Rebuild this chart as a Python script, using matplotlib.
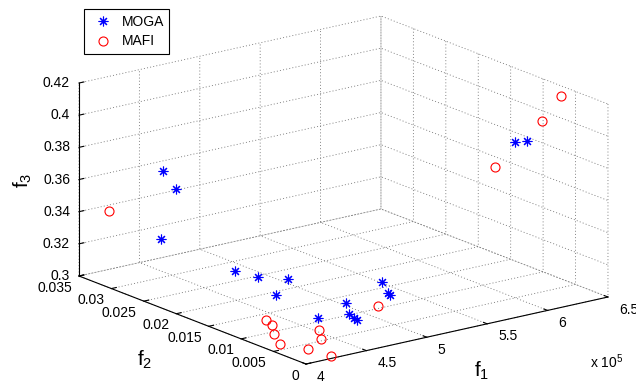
import matplotlib
matplotlib.use('Agg')
import matplotlib.pyplot as plt
from matplotlib.transforms import offset_copy
from matplotlib.ticker import NullFormatter

# ---------------- data ----------------
moga_f1 = [4.426e5, 4.428e5, 4.463e5, 6.000e5, 6.098e5, 4.629e5, 4.669e5, 4.800e5, 4.652e5,
           5.255e5, 5.263e5, 5.252e5, 4.908e5, 4.854e5, 4.827e5, 4.816e5, 4.638e5]
moga_f2 = [0.0300, 0.0280, 0.0310, 0.0050, 0.0050, 0.0226, 0.0198, 0.0176, 0.0167,
           0.0116, 0.0109, 0.0103, 0.0108, 0.0093, 0.0080, 0.0073, 0.0100]
moga_f3 = [0.366, 0.358, 0.3215, 0.3968, 0.3959, 0.312, 0.312, 0.312, 0.306,
           0.312, 0.306, 0.306, 0.306, 0.3024, 0.3024, 0.3024, 0.3024]

mafi_f1 = [6.437e5, 6.280e5, 5.888e5, 4.100e5, 5.1135e5, 4.332e5, 4.297e5, 4.187e5,
           4.0845e5, 4.477e5, 4.367e5, 4.1855e5, 4.2385e5]
mafi_f2 = [0.0060, 0.0060, 0.0060, 0.0322, 0.00966, 0.01242, 0.01081, 0.0084,
           0.00552, 0.0069, 0.0045, 0.00322, 0.00064]
mafi_f3 = [0.4167, 0.4038, 0.3817, 0.343, 0.3024, 0.3024, 0.3024, 0.3024,
           0.3024, 0.3024, 0.3024, 0.3012, 0.3000]

f1_ticks = [4e5, 4.5e5, 5e5, 5.5e5, 6e5, 6.5e5]
f1_labels = ['4', '4.5', '5', '5.5', '6', '6.5']
f2_ticks = [0, 0.005, 0.01, 0.015, 0.02, 0.025, 0.03, 0.035]
f2_labels = ['0', '0.005', '0.01', '0.015', '0.02', '0.025', '0.03', '0.035']
f3_ticks = [0.3, 0.32, 0.34, 0.36, 0.38, 0.4, 0.42]
f3_labels = ['0.3', '0.32', '0.34', '0.36', '0.38', '0.4', '0.42']

# ---------------- style ----------------
plt.rcParams['font.family'] = ['Liberation Sans', 'DejaVu Sans']
plt.rcParams['mathtext.default'] = 'regular'
plt.rcParams['axes.linewidth'] = 0.8
plt.rcParams['grid.color'] = '0.45'
plt.rcParams['grid.linewidth'] = 0.6
plt.rcParams['grid.linestyle'] = ':'

W, H = 636, 386
fig = plt.figure(figsize=(W / 100, H / 100), dpi=100)
S = 554.0
ax = fig.add_axes([59 / W, -88.5 / H, S / W, S / H], projection='3d')
ax.set_proj_type('ortho')
ax.view_init(elev=17.06, azim=-127.11)
ax.set_box_aspect((378.7, 376.3, 201.9))

ax.set_xlim(4e5, 6.5e5)
ax.set_ylim(0, 0.035)
ax.set_zlim(0.3, 0.42)
ax.set_xticks(f1_ticks)
ax.set_yticks(f2_ticks)
ax.set_zticks(f3_ticks)
for a in (ax.xaxis, ax.yaxis, ax.zaxis):
    a.set_major_formatter(NullFormatter())
    a.pane.set_fill(False)
    a.pane.set_edgecolor('none')
    a._axinfo['grid'].update({'color': '0.45', 'linewidth': 0.6,
                              'linestyle': (0, (1.2, 2.6))})
    a._axinfo['axisline']['color'] = 'black'
    a._axinfo['tick']['inward_factor'] = 0.0
    a._axinfo['tick']['outward_factor'] = 0.2
    a.line.set_linewidth(0.8)

# data
h1, = ax.plot(moga_f1, moga_f2, moga_f3, linestyle='none', marker=(8, 2, 0),
              color='blue', markersize=7, markeredgewidth=0.8, label='MOGA')
h2, = ax.plot(mafi_f1, mafi_f2, mafi_f3, linestyle='none', marker='o',
              markerfacecolor='none', markeredgecolor='red', markersize=6.5,
              markeredgewidth=0.8, label='MAFI')

# tick labels
fs = 10
for t, s in zip(f1_ticks, f1_labels):
    ax.text(t, 0, 0.3, s, fontsize=fs, ha='left', va='center',
            transform=offset_copy(ax.transData, fig=fig, x=11, y=-12.5, units='dots'))
for t, s in zip(f2_ticks, f2_labels):
    ax.text(4e5, t, 0.3, s, fontsize=fs, ha='right', va='center',
            transform=offset_copy(ax.transData, fig=fig, x=-7, y=-11.5, units='dots'))
for t, s in zip(f3_ticks, f3_labels):
    ax.text(4e5, 0.035, t, s, fontsize=fs, ha='right', va='center',
            transform=offset_copy(ax.transData, fig=fig, x=-9, y=0, units='dots'))

# axis labels
fig.text(482 / W, 1 - 371 / H, 'f$_1$', fontsize=15, ha='center', va='center')
fig.text(145 / W, 1 - 360 / H, 'f$_2$', fontsize=15, ha='center', va='center')
fig.text(22.5 / W, 1 - 180 / H, 'f$_3$', fontsize=15, ha='center', va='center',
         rotation=90)
fig.text(590 / W, 1 - 362 / H, 'x 10$^5$', fontsize=fs, ha='left', va='center')

leg = fig.legend(handles=[h1, h2], loc='upper left',
                 bbox_to_anchor=(84 / W, 1 - 9 / H), bbox_transform=fig.transFigure,
                 fontsize=fs, frameon=True, fancybox=False, edgecolor='black',
                 framealpha=1, borderaxespad=0, borderpad=0.4, handlelength=2.0,
                 handletextpad=0.3, labelspacing=0.42)
leg.get_frame().set_linewidth(0.8)

fig.savefig('out.png', dpi=100)
